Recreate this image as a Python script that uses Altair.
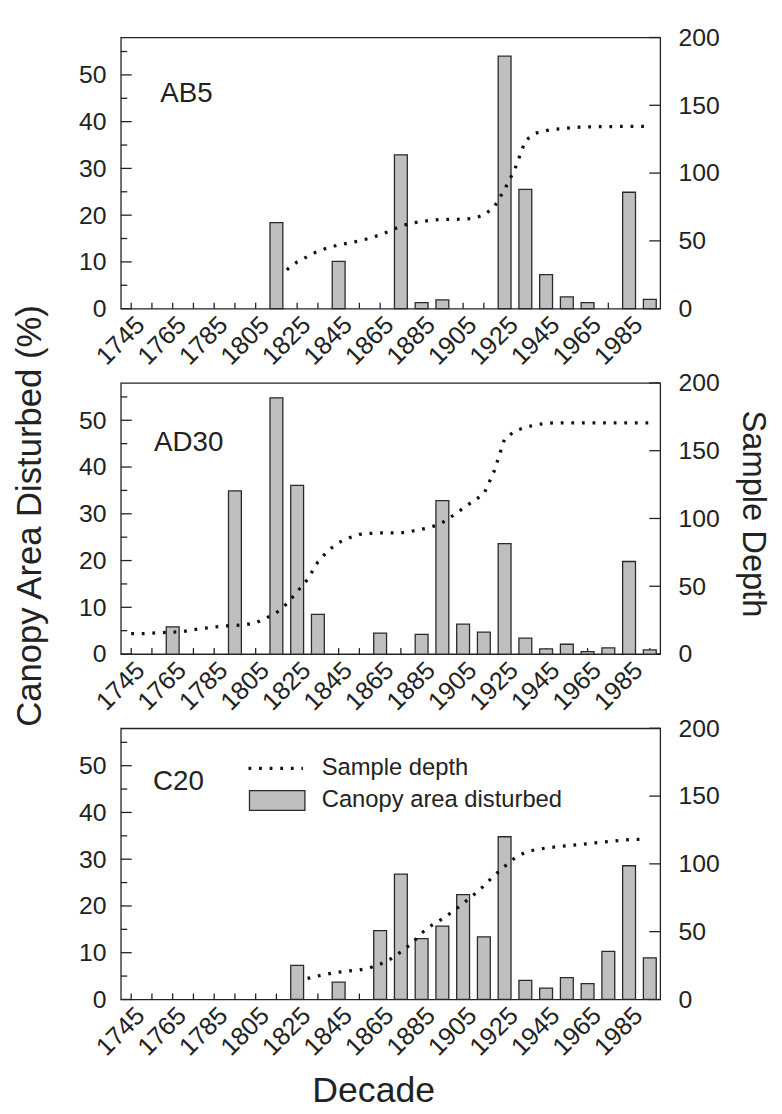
import altair as alt
import pandas as pd

# ---------------- data ----------------
decades = list(range(1745, 2000, 10))          # 1745 ... 1995
label_years = list(range(1745, 1990, 20))      # 1745, 1765, ..., 1985

ab5_pct = [0, 0, 0, 0, 0, 0, 0, 18.4, 0, 0, 10.1, 0, 0, 32.9, 1.3, 1.9,
           0, 0, 54.0, 25.5, 7.3, 2.5, 1.3, 0, 24.9, 2.0]
ad30_pct = [0, 0, 5.8, 0, 0, 34.9, 0, 54.8, 36.1, 8.5, 0, 0, 4.5, 0, 4.2, 32.8,
            6.4, 4.7, 23.6, 3.4, 1.1, 2.1, 0.5, 1.3, 19.8, 0.9]
c20_pct = [0, 0, 0, 0, 0, 0, 0, 0, 7.3, 0, 3.7, 0, 14.7, 26.8, 13.0, 15.7,
           22.4, 13.4, 34.8, 4.1, 2.4, 4.65, 3.4, 10.3, 28.6, 8.9]

ab5_depth_years = list(range(1820, 2000, 5))
ab5_depth = [28.7, 34.5, 38.5, 42.5, 45.0, 47.0, 48.5, 50.0, 52.0, 54.5, 57.5, 61.0,
             63.0, 64.3, 65.3, 65.8, 65.9, 66.0, 66.6, 69.0, 75.0, 88.0, 103.0, 124.0,
             129.5, 131.3, 132.5, 133.2, 133.8, 134.0, 134.2, 134.3, 134.4, 134.5, 134.5, 134.5]

ad30_depth_years = list(range(1745, 2000, 5))
ad30_depth = [15.0, 15.0, 15.5, 15.8, 16.2, 16.6, 18.0, 19.0, 20.0, 20.8, 21.0, 21.6,
              23.0, 26.5, 30.5, 37.0, 46.0, 55.0, 68.0, 76.5, 82.2, 85.7, 88.2, 89.0,
              89.3, 89.3, 89.3, 90.5, 92.0, 93.8, 97.0, 102.0, 107.5, 113.0, 118.0, 135.0,
              158.7, 164.5, 167.3, 169.0, 170.3, 170.5, 170.5, 170.5, 170.5, 170.5, 170.5,
              170.5, 170.5, 170.5, 170.5]

c20_depth_years = list(range(1830, 1995, 5))
c20_depth = [15.5, 17.3, 18.9, 20.2, 21.0, 21.7, 23.3, 26.0, 29.8, 35.0, 41.0, 49.0,
             54.8, 59.5, 64.8, 70.8, 77.0, 83.8, 91.5, 98.0, 104.5, 108.5, 110.5, 111.7,
             112.6, 113.4, 114.1, 114.9, 115.7, 116.4, 117.2, 117.9, 118.1]

site_names = ["AB5", "AD30", "C20"]
site_label_pos = [(1759, 45.8), (1756, 45.2), (1755.5, 46.6)]

pct_ticks_major = [0, 10, 20, 30, 40, 50]
pct_ticks_minor = [5, 15, 25, 35, 45, 55]
depth_ticks = [0, 50, 100, 150, 200]

# ---------------- style ----------------
W, H = 545, 274
FONT = "Liberation Sans"
INK = "#222222"
BAR_FILL = "#bfbfbf"
BAR_EDGE = "#2a2a2a"
DOT_DASH = [2.8, 7.9]


def xscale():
    return alt.Scale(domain=[1740, 2000], nice=False, zero=False)


def pscale():
    return alt.Scale(domain=[0, 58], nice=False)


def dscale():
    return alt.Scale(domain=[0, 200], nice=False)


def panel(idx, pct, dyears, dvals, titles=False, xtitle=False, legend=False):
    name = site_names[idx]
    lx, ly = site_label_pos[idx]
    bars_df = pd.DataFrame({"year": decades, "pct": pct,
                            "series": ["Canopy area disturbed"] * len(decades)})
    depth_df = pd.DataFrame({"year": dyears, "depth": dvals,
                             "series": ["Sample depth"] * len(dyears)})
    lab_df = pd.DataFrame({"t": [name], "lx": [lx], "ly": [ly]})

    xax = dict(orient="bottom", values=decades, format="d",
               labelExpr="(datum.value - 1745) % 20 === 0 ? datum.label : ''",
               labelOverlap=False,
               labelAngle=-45, labelAlign="right", labelBaseline="middle",
               labelFontSize=25.5, labelPadding=12, labelOffset=9,
               ticks=False, tickSize=0,
               domain=False, grid=False, labelColor=INK, labelFont=FONT)
    if xtitle:
        xax.update(title="Decade", titleFontSize=36, titleFontWeight="normal",
                   titleX=255, titleY=92, titleAlign="center", titleBaseline="middle",
                   titleColor=INK, titleFont=FONT)
    ylax = dict(orient="left", values=pct_ticks_major, labelFontSize=25,
                labelPadding=15, ticks=False, tickSize=0, domain=False, grid=False,
                labelColor=INK, labelFont=FONT)
    yrax = dict(orient="right", values=depth_ticks, labelFontSize=25,
                labelPadding=18, ticks=False, tickSize=0, domain=False, grid=False,
                labelColor=INK, labelFont=FONT)
    if titles:
        ylax.update(title="Canopy Area Disturbed (%)", titleFontSize=35,
                    titleFontWeight="normal", titleAngle=-90, titleX=-92, titleY=134,
                    titleAlign="center", titleBaseline="middle", titleColor=INK,
                    titleFont=FONT)
        yrax.update(title="Sample Depth", titleFontSize=33, titleFontWeight="normal",
                    titleAngle=90, titleX=93, titleY=132, titleAlign="center",
                    titleBaseline="middle", titleColor=INK, titleFont=FONT)

    bar_enc = dict(
        x=alt.X("x0:Q", scale=xscale(), axis=alt.Axis(**xax),
                title="Decade" if xtitle else None),
        x2="x1:Q",
        y=alt.Y("pct:Q", scale=pscale(), axis=alt.Axis(**ylax),
                title="Canopy Area Disturbed (%)" if titles else None),
        y2="base:Q",
    )
    line_enc = dict(
        x=alt.X("year:Q", scale=xscale(), axis=None),
        y=alt.Y("depth:Q", scale=dscale(), axis=alt.Axis(**yrax),
                title="Sample Depth" if titles else None),
    )
    if legend:
        bar_enc["fill"] = alt.Fill(
            "series:N",
            scale=alt.Scale(domain=["Canopy area disturbed"], range=[BAR_FILL]),
            legend=alt.Legend(
                orient="none", legendX=146, legendY=61, title=None, padding=0,
                symbolType="M-2.8,-1H2.8V1H-2.8Z", symbolSize=400,
                symbolStrokeColor=BAR_EDGE, symbolStrokeWidth=1.3,
                symbolFillColor=BAR_FILL, labelOffset=33, labelFontSize=24,
                labelLimit=0, labelFont=FONT, labelColor=INK))
        line_enc["strokeDash"] = alt.StrokeDash(
            "series:N",
            scale=alt.Scale(domain=["Sample depth"], range=[DOT_DASH]),
            legend=alt.Legend(
                orient="none", legendX=127, legendY=11, title=None, padding=0,
                symbolType="stroke", symbolSize=3025, symbolStrokeWidth=3.3,
                symbolStrokeColor="#111111", labelOffset=17, labelFontSize=24,
                labelLimit=0, labelFont=FONT, labelColor=INK))
        bar_mark = dict(stroke=BAR_EDGE, strokeWidth=1.3)
        line_mark = dict(color="#111111", strokeWidth=3.3)
    else:
        bar_mark = dict(stroke=BAR_EDGE, strokeWidth=1.3, fill=BAR_FILL)
        line_mark = dict(color="#111111", strokeWidth=3.3, strokeDash=DOT_DASH)

    bars = (
        alt.Chart(bars_df)
        .transform_filter("datum.pct > 0")
        .transform_calculate(x0="datum.year - 3.1", x1="datum.year + 3.1", base="0")
        .mark_bar(**bar_mark)
        .encode(**bar_enc)
    )

    line = alt.Chart(depth_df).mark_line(**line_mark).encode(**line_enc)

    label = (
        alt.Chart(lab_df)
        .mark_text(align="left", baseline="middle", fontSize=28, font=FONT, color=INK)
        .encode(
            x=alt.X("lx:Q", scale=xscale(), axis=None),
            y=alt.Y("ly:Q", scale=pscale(), axis=None),
            text="t:N",
        )
    )

    # inward-pointing tick marks (drawn behind the bars)
    rule_kw = dict(color=INK, strokeWidth=1.3)
    xticks = (
        alt.Chart(pd.DataFrame({"year": decades}))
        .mark_rule(**rule_kw)
        .encode(x=alt.X("year:Q", scale=xscale(), axis=None),
                y=alt.value(H - 6), y2=alt.value(H))
    )
    lmajor = (
        alt.Chart(pd.DataFrame({"v": pct_ticks_major}))
        .mark_rule(**rule_kw)
        .encode(y=alt.Y("v:Q", scale=pscale(), axis=None),
                x=alt.value(0), x2=alt.value(11))
    )
    lminor = (
        alt.Chart(pd.DataFrame({"v": pct_ticks_minor}))
        .mark_rule(**rule_kw)
        .encode(y=alt.Y("v:Q", scale=pscale(), axis=None),
                x=alt.value(0), x2=alt.value(6.5))
    )
    rmajor = (
        alt.Chart(pd.DataFrame({"v": depth_ticks}))
        .mark_rule(**rule_kw)
        .encode(y=alt.Y("v:Q", scale=dscale(), axis=None),
                x=alt.value(W - 11), x2=alt.value(W))
    )

    return (
        alt.layer(xticks, lmajor, lminor, rmajor, bars, line, label)
        .resolve_scale(y="independent")
        .resolve_axis(x="independent", y="independent")
        .properties(width=W, height=H)
    )


p1 = panel(0, ab5_pct, ab5_depth_years, ab5_depth)
p2 = panel(1, ad30_pct, ad30_depth_years, ad30_depth, titles=True)
p3 = panel(2, c20_pct, c20_depth_years, c20_depth, xtitle=True, legend=True)

chart = (
    alt.vconcat(p1, p2, p3, spacing=75, bounds="flush")
    .resolve_scale(fill="independent", strokeDash="independent")
    .resolve_legend(fill="independent", strokeDash="independent")
    .properties(padding={"left": 4, "top": 11, "right": 5, "bottom": 5})
    .configure_view(stroke=INK, strokeWidth=1.3)
    .configure_axis(labelFont=FONT, titleFont=FONT)
    .configure_legend(labelFont=FONT)
    .configure_text(font=FONT)
)

chart.save("out.html", embed_options={"renderer": "svg", "actions": False})
